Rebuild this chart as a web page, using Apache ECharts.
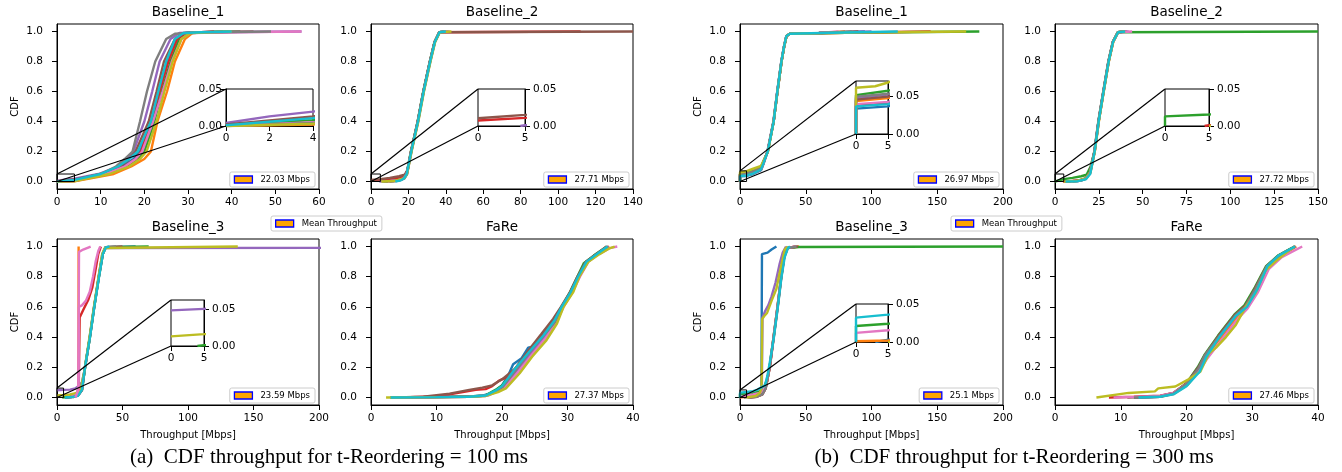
<!DOCTYPE html>
<html><head><meta charset="utf-8">
<script src="https://cdn.jsdelivr.net/npm/echarts@6/dist/echarts.min.js"></script>
<style>html,body{margin:0;padding:0;background:#fff}#c{width:1342px;height:472px}</style>
</head><body><div id="c"></div><script>
// ---------- data ----------
const COLORS = ['#1f77b4','#ff7f0e','#2ca02c','#d62728','#9467bd','#8c564b','#e377c2','#7f7f7f','#bcbd22','#17becf'];
const TITLES = ['Baseline_1','Baseline_2','Baseline_3','FaRe'];
const A_MEANS = ['22.03 Mbps','27.71 Mbps','23.59 Mbps','27.37 Mbps'];
const B_MEANS = ['26.97 Mbps','27.72 Mbps','25.1 Mbps','27.46 Mbps'];
const MEAN_LABEL = 'Mean Throughput';
const CAPTIONS = ['(a)  CDF throughput for t-Reordering = 100 ms','(b)  CDF throughput for t-Reordering = 300 ms'];
const X_NAME = 'Throughput [Mbps]';
const Y_NAME = 'CDF';
const Y_TICKS = [0, 0.2, 0.4, 0.6, 0.8, 1.0];
const INSET_Y_TICKS = [0, 0.05];

// (a) 100 ms, Baseline_1 : blue, orange, green, red, purple, brown, pink, gray, olive, cyan
const A_B1 = [
 [[0,0],[4,0.003],[11,0.05],[15,0.1],[17.5,0.15],[19,0.2],[21.8,0.4],[23.5,0.6],[25.3,0.8],[27.5,0.95],[29.5,0.99],[33,0.995],[38,1]],
 [[0,0],[4,0.002],[13,0.05],[17,0.1],[20,0.15],[21.5,0.2],[23,0.4],[25.2,0.6],[27,0.8],[29.3,0.95],[31,0.99],[34,0.995],[40,1]],
 [[0,0.001],[4,0.008],[11.5,0.05],[16,0.1],[18.5,0.15],[20,0.2],[22.3,0.4],[24,0.6],[26,0.8],[28,0.95],[30,0.99],[34,0.995],[42,1]],
 [[0,0],[4,0.004],[11,0.05],[15.5,0.1],[18,0.15],[19.3,0.2],[21.5,0.4],[23.5,0.6],[25.5,0.8],[27.5,0.95],[29.5,0.99],[33,0.995],[36,1]],
 [[0,0.004],[2,0.013],[4,0.0195],[9.5,0.05],[14,0.1],[16,0.15],[17.5,0.2],[20,0.4],[21.8,0.6],[23.5,0.8],[26,0.95],[28,0.99],[35,0.995],[56,1]],
 [[0,0.002],[4,0.013],[10,0.05],[14.5,0.1],[16.5,0.15],[18,0.2],[21,0.4],[22.8,0.6],[24.5,0.8],[27,0.95],[29,0.99],[35,0.995],[45,1]],
 [[0,0],[4,0.005],[11,0.05],[15.5,0.1],[18,0.15],[19.5,0.2],[22,0.4],[24.2,0.6],[26.3,0.8],[28.5,0.95],[30.5,0.99],[40,0.995],[56,1]],
 [[0,0],[4,0.004],[10,0.05],[13.5,0.1],[15.5,0.15],[17.3,0.2],[19,0.4],[20.6,0.6],[22.5,0.8],[25,0.95],[27,0.985],[35,0.995],[49,1]],
 [[0,0],[4,0.003],[12,0.05],[16.5,0.1],[19,0.15],[20.5,0.2],[22.8,0.4],[24.6,0.6],[26.5,0.8],[28.5,0.95],[30.5,0.99],[35,0.995],[40,1]],
 [[0,0.001],[4,0.0106],[10,0.05],[14,0.1],[16.5,0.15],[18.5,0.2],[21.5,0.4],[23.2,0.6],[25,0.8],[27,0.95],[29,0.99],[33,0.995],[40,1]]
];
// (a) Baseline_2
const A_B2 = [
 [[8,0],[14,0.005],[17.5,0.02],[19,0.05],[21.4,0.2],[25,0.4],[28,0.6],[31.5,0.8],[34,0.93],[36.5,0.995],[40,1]],
 [[7,0],[14,0.004],[17.6,0.02],[19.2,0.05],[21.5,0.2],[25.1,0.4],[28.1,0.6],[31.6,0.8],[34.1,0.93],[36.6,0.995],[39,1]],
 [[6,0],[13,0.005],[17.3,0.02],[19,0.05],[21.3,0.2],[24.9,0.4],[27.9,0.6],[31.4,0.8],[33.9,0.93],[36.4,0.995],[41,1]],
 [[0,0.0075],[5,0.011],[10,0.018],[15,0.027],[18,0.04],[19.5,0.07],[21.4,0.2],[25,0.4],[28,0.6],[31.5,0.8],[34,0.93],[36.5,0.995],[112,1]],
 [[4.5,0],[5,0.001],[10,0.003],[15,0.008],[17.8,0.02],[19.3,0.05],[21.6,0.2],[25.2,0.4],[28.2,0.6],[31.7,0.8],[34.2,0.93],[36.7,0.995],[42,1]],
 [[0,0.0105],[5,0.015],[10,0.024],[15,0.035],[18,0.045],[19.6,0.08],[21.4,0.2],[25,0.4],[28,0.6],[31.5,0.8],[34,0.93],[36.5,0.995],[140,1]],
 [[9,0],[14,0.004],[17.5,0.02],[19.1,0.05],[21.5,0.2],[25.1,0.4],[28.1,0.6],[31.6,0.8],[34.1,0.93],[36.6,0.995],[41,1]],
 [[10,0],[15,0.006],[17.6,0.02],[19.1,0.05],[21.5,0.2],[25,0.4],[28,0.6],[31.5,0.8],[34,0.93],[36.5,0.995],[39,1]],
 [[5.5,0],[12,0.003],[17.7,0.02],[19.3,0.05],[21.7,0.2],[25.3,0.4],[28.3,0.6],[31.8,0.8],[34.3,0.93],[36.8,0.995],[43,1]],
 [[13,0],[16,0.008],[17.6,0.02],[19.1,0.05],[21.5,0.2],[25.1,0.4],[28.1,0.6],[31.6,0.8],[34.1,0.93],[36.6,0.995],[40,1]]
];
// (a) Baseline_3 (11 curves, last one pink again)
const A_B3 = [
 [[6,0],[12,0.004],[16,0.012],[19,0.05],[21.3,0.2],[25,0.4],[28.3,0.6],[31.9,0.8],[34.8,0.95],[37,0.995],[60,1]],
 [[12,0],[16,0.02],[16.4,0.05],[16.5,1.0]],
 [[4,0],[5,0.001],[10,0.005],[15,0.015],[19,0.05],[21.5,0.2],[25.2,0.4],[28.5,0.6],[32,0.8],[35,0.95],[37.2,0.995],[70,1]],
 [[10,0],[15,0.02],[16.6,0.06],[17.3,0.53],[20,0.58],[24,0.65],[27,0.73],[29.5,0.85],[31.5,0.95],[33.5,1.0]],
 [[0,0.048],[5,0.05],[10,0.052],[14,0.06],[17,0.08],[19,0.1],[21.5,0.2],[25,0.4],[28.3,0.6],[31.8,0.8],[34.5,0.95],[37,0.99],[200,0.991],[260,1]],
 [[7,0],[12,0.005],[16,0.013],[19.2,0.05],[21.4,0.2],[25.1,0.4],[28.4,0.6],[32,0.8],[35,0.95],[37.2,0.995],[50,1]],
 [[10,0],[15,0.03],[16.5,0.07],[16.7,0.6],[19,0.61],[22,0.64],[25,0.7],[27.5,0.8],[29.5,0.9],[31.5,0.97],[33,1.0]],
 [[8,0],[13,0.005],[16.5,0.015],[19.1,0.05],[21.4,0.2],[25.1,0.4],[28.4,0.6],[31.9,0.8],[34.9,0.95],[37.1,0.995],[45,1]],
 [[0,0.013],[5,0.016],[10,0.02],[15,0.03],[18,0.05],[21,0.18],[24.8,0.4],[28.2,0.6],[31.7,0.8],[34.5,0.95],[36.5,0.99],[138,1.0]],
 [[6,0],[12,0.003],[16,0.01],[19,0.05],[21.4,0.2],[25.2,0.4],[28.5,0.6],[32.1,0.8],[35,0.95],[37.4,0.995],[40,1]],
 [[14,0],[16.3,0.05],[16.8,0.965],[20,0.98],[25.7,1.0]]
];
const A_B3_COLOR_ORDER = [0,1,2,3,4,5,6,7,8,9,6];
// (a) FaRe
const A_FR = [
 [[3,0],[10,0.003],[15,0.007],[17,0.012],[18.5,0.03],[20,0.08],[21,0.15],[21.7,0.22],[23,0.26],[24,0.33],[25,0.34],[26.3,0.41],[28,0.51],[29.2,0.6],[30.5,0.7],[31.6,0.8],[32.9,0.9],[34.5,0.95],[36.2,1.0]],
 [[3,0],[10,0.002],[15,0.005],[17.5,0.012],[19,0.04],[20.2,0.07],[22.2,0.18],[24.3,0.3],[26.5,0.4],[28.2,0.5],[29.3,0.6],[30.7,0.7],[31.8,0.8],[33.1,0.9],[34.7,0.95],[36.4,1.0]],
 [[3,0],[10,0.002],[15,0.006],[17.5,0.014],[19,0.05],[20,0.08],[22,0.19],[24.2,0.31],[26.3,0.41],[28,0.51],[29.1,0.6],[30.4,0.7],[31.5,0.8],[32.5,0.89],[34,0.94],[36,1.0]],
 [[5,0],[10,0.008],[12,0.02],[14,0.035],[16,0.05],[17.5,0.055],[18.5,0.075],[19.5,0.11],[21,0.14],[22.5,0.21],[24,0.3],[25.5,0.38],[26.7,0.44],[28,0.52],[29.2,0.6],[30.5,0.7],[31.6,0.8],[32.9,0.9],[34.5,0.95],[36,1.0]],
 [[3,0],[10,0.002],[15,0.005],[18,0.015],[19.2,0.04],[20.3,0.07],[22.3,0.18],[24.4,0.29],[26.5,0.4],[28.2,0.5],[29.3,0.6],[30.7,0.7],[31.8,0.8],[33,0.9],[34.6,0.95],[36.3,1.0]],
 [[4,0],[8,0.005],[12,0.025],[15,0.05],[17,0.065],[18.5,0.08],[20,0.12],[22,0.19],[24,0.31],[26,0.42],[27.8,0.52],[29,0.6],[30.4,0.7],[31.5,0.8],[32.8,0.9],[34.4,0.95],[36,1.0]],
 [[3,0],[10,0.002],[15,0.004],[17.5,0.01],[19.3,0.04],[20.5,0.07],[22.5,0.17],[24.5,0.28],[26.6,0.39],[28.3,0.5],[29.4,0.6],[30.8,0.7],[31.9,0.8],[33.2,0.9],[34.8,0.95],[36.5,0.99],[37.6,1.0]],
 [[3,0],[10,0.002],[15,0.005],[17.5,0.012],[19,0.04],[20.1,0.07],[22.1,0.18],[24.2,0.3],[26.4,0.41],[28.1,0.5],[29.2,0.6],[30.6,0.7],[31.7,0.8],[33,0.9],[34.6,0.95],[36.2,1.0]],
 [[2.3,0],[10,0.002],[15,0.004],[17.5,0.01],[19.4,0.035],[20.6,0.06],[22.7,0.16],[24.6,0.27],[26.8,0.38],[28.4,0.49],[29.4,0.6],[30.9,0.7],[31.8,0.8],[33.2,0.9],[34.9,0.95],[36.5,0.99],[37.2,1.0]],
 [[3,0],[10,0.002],[15,0.005],[17.5,0.013],[19,0.045],[20,0.075],[22,0.19],[24.1,0.3],[26.3,0.41],[28,0.51],[29.1,0.6],[30.5,0.7],[31.6,0.8],[32.9,0.9],[34.5,0.95],[36.1,1.0]]
];
// (b) 300 ms, Baseline_1
const B_B1 = [
 [[0,0],[0,0.034],[5,0.037],[10,0.05],[16,0.075],[18,0.12],[20.8,0.2],[25.4,0.4],[28.3,0.6],[31.4,0.8],[33.4,0.9],[35.2,0.97],[38,0.985],[60,0.99],[95,1]],
 [[0,0],[0,0.044],[5,0.048],[10,0.06],[16,0.085],[18,0.13],[21,0.2],[25.5,0.4],[28.4,0.6],[31.5,0.8],[33.5,0.9],[35.3,0.97],[38,0.985],[60,0.99],[80,1]],
 [[0,0],[0,0.052],[5,0.058],[10,0.07],[16,0.095],[18,0.14],[21.2,0.2],[25.6,0.4],[28.5,0.6],[31.6,0.8],[33.6,0.9],[35.4,0.97],[38,0.985],[80,0.992],[182,1]],
 [[0,0],[0,0.038],[5,0.042],[10,0.055],[16,0.08],[18,0.125],[21,0.2],[25.6,0.4],[28.5,0.6],[31.6,0.8],[33.6,0.9],[35.4,0.97],[38,0.985],[80,0.992],[145,1]],
 [[0,0],[0,0.048],[5,0.053],[10,0.065],[16,0.09],[18,0.135],[21.1,0.2],[25.5,0.4],[28.4,0.6],[31.5,0.8],[33.5,0.9],[35.3,0.97],[38,0.985],[60,0.99],[100,1]],
 [[0,0],[0,0.046],[5,0.05],[10,0.062],[16,0.088],[18,0.13],[21,0.2],[25.6,0.4],[28.5,0.6],[31.6,0.8],[33.6,0.9],[35.4,0.97],[38,0.985],[60,0.99],[90,1]],
 [[0,0],[0,0.04],[5,0.043],[10,0.056],[16,0.082],[18,0.127],[21,0.2],[25.5,0.4],[28.4,0.6],[31.5,0.8],[33.5,0.9],[35.3,0.97],[38,0.985],[60,0.99],[75,1]],
 [[0,0],[0,0.05],[5,0.054],[10,0.066],[16,0.09],[18,0.135],[21.1,0.2],[25.5,0.4],[28.4,0.6],[31.5,0.8],[33.5,0.9],[35.3,0.97],[38,0.985],[60,0.99],[85,1]],
 [[0,0],[0,0.062],[3,0.064],[5,0.069],[10,0.085],[16,0.104],[18,0.14],[21.3,0.2],[25.6,0.4],[28.5,0.6],[31.6,0.8],[33.6,0.9],[35.4,0.97],[38,0.985],[90,0.993],[172,1]],
 [[0,0],[0,0.037],[5,0.04],[10,0.053],[16,0.08],[18,0.125],[21.1,0.2],[25.6,0.4],[28.4,0.6],[31.5,0.8],[33.5,0.9],[35.3,0.97],[38,0.985],[70,0.992],[120,1]]
];
// (b) Baseline_2
const B_B2 = [
 [[6,0],[14,0.004],[17.5,0.02],[20,0.06],[22.5,0.2],[24.8,0.4],[27.6,0.6],[30.5,0.8],[33,0.93],[35.8,0.995],[40,1]],
 [[7,0],[14,0.004],[17.7,0.02],[20.2,0.06],[22.7,0.2],[25,0.4],[27.8,0.6],[30.7,0.8],[33.2,0.93],[36,0.995],[39,1]],
 [[0,0],[0,0.013],[5,0.0155],[10,0.024],[15,0.035],[18,0.045],[20.3,0.1],[22.5,0.2],[24.8,0.4],[27.6,0.6],[30.5,0.8],[33,0.93],[35.8,0.995],[150,1]],
 [[4.5,0],[5,0.001],[10,0.004],[15,0.01],[17.8,0.02],[20.1,0.06],[22.6,0.2],[24.9,0.4],[27.7,0.6],[30.6,0.8],[33.1,0.93],[35.9,0.995],[41,1]],
 [[8,0],[14,0.005],[17.6,0.02],[20,0.06],[22.6,0.2],[24.9,0.4],[27.7,0.6],[30.6,0.8],[33.1,0.93],[36,0.995],[42,1]],
 [[6,0],[13,0.006],[17.4,0.02],[19.9,0.06],[22.4,0.2],[24.7,0.4],[27.5,0.6],[30.4,0.8],[32.9,0.93],[35.8,0.995],[40,1]],
 [[9,0],[14,0.004],[17.6,0.02],[20.1,0.06],[22.6,0.2],[24.9,0.4],[27.7,0.6],[30.6,0.8],[33.1,0.93],[36.2,0.995],[44,1]],
 [[10,0],[15,0.006],[17.5,0.02],[20,0.06],[22.5,0.2],[24.8,0.4],[27.6,0.6],[30.5,0.8],[33,0.93],[35.8,0.995],[39,1]],
 [[5,0],[12,0.003],[17.7,0.02],[20.2,0.06],[22.7,0.2],[25,0.4],[27.8,0.6],[30.7,0.8],[33.2,0.93],[36,0.995],[40,1]],
 [[6,0],[13,0.002],[17.6,0.015],[20.1,0.05],[22.6,0.2],[24.9,0.4],[27.7,0.6],[30.6,0.8],[33.1,0.93],[36,0.995],[40,1]]
];
// (b) Baseline_3
const B_B3 = [
 [[3,0],[10,0.01],[14,0.03],[16.3,0.05],[16.7,0.95],[21,0.96],[24,0.98],[27.7,1.0]],
 [[0,0.001],[5,0.002],[10,0.006],[15,0.015],[18,0.04],[20.5,0.1],[22.5,0.2],[25.5,0.4],[28.5,0.6],[31.3,0.8],[33.5,0.93],[36,0.99],[45,1]],
 [[0,0],[0,0.021],[5,0.024],[10,0.03],[15,0.04],[18,0.06],[20.5,0.12],[22.5,0.2],[25.5,0.4],[28.5,0.6],[31.3,0.8],[33.5,0.93],[36,0.99],[45,0.997],[200,1]],
 [[7,0],[13,0.005],[17,0.02],[19.5,0.06],[22.7,0.2],[25.7,0.4],[28.7,0.6],[31.5,0.8],[33.7,0.93],[36.2,0.99],[42,1]],
 [[8,0],[13,0.01],[16,0.04],[16.6,0.06],[17.1,0.53],[19,0.57],[21.5,0.61],[24,0.67],[27,0.76],[30,0.88],[32.5,0.96],[35,1.0]],
 [[6,0],[12,0.004],[17,0.02],[19.5,0.06],[22.6,0.2],[25.6,0.4],[28.6,0.6],[31.4,0.8],[33.6,0.93],[36.1,0.99],[44,1]],
 [[0,0],[0,0.012],[5,0.0155],[10,0.02],[15,0.03],[18,0.05],[20.5,0.11],[22.5,0.2],[25.5,0.4],[28.5,0.6],[31.3,0.8],[33.5,0.93],[36,0.99],[42,1]],
 [[7,0],[13,0.005],[17,0.02],[19.5,0.06],[22.6,0.2],[25.6,0.4],[28.6,0.6],[31.4,0.8],[33.6,0.93],[36.1,0.99],[43,1]],
 [[5,0],[12,0.01],[15,0.03],[16.4,0.06],[16.9,0.52],[18.5,0.54],[20.6,0.56],[24,0.64],[27.7,0.72],[30,0.82],[32,0.9],[34,0.98],[36,1.0]],
 [[0,0],[0,0.032],[5,0.036],[10,0.042],[13,0.05],[15,0.06],[17,0.07],[19,0.08],[21,0.15],[23,0.25],[25.8,0.4],[28.8,0.6],[31.6,0.8],[34,0.93],[36.5,0.99],[38,1]]
];
// (b) FaRe
const B_FR = [
 [[12,0],[16,0.005],[18,0.025],[20,0.09],[21.8,0.19],[22.8,0.28],[24.9,0.4],[27.4,0.54],[28.9,0.6],[30.5,0.72],[32.2,0.87],[34,0.94],[36.5,1.0]],
 [[12.5,0],[16,0.004],[18,0.022],[20.2,0.085],[22,0.18],[23,0.27],[25.1,0.39],[27.6,0.53],[29.1,0.6],[30.7,0.71],[32.4,0.86],[34.2,0.93],[36.7,1.0]],
 [[12,0],[16,0.006],[18,0.027],[20,0.095],[21.7,0.2],[22.7,0.28],[24.8,0.41],[27.3,0.55],[28.8,0.61],[30.4,0.73],[32.1,0.87],[33.9,0.94],[36.4,1.0]],
 [[8.2,0],[12,0.005],[16,0.012],[18,0.03],[20,0.09],[21.8,0.19],[22.8,0.27],[24.8,0.4],[27.3,0.54],[29,0.61],[30.5,0.72],[32.2,0.86],[34,0.93],[36.5,1.0]],
 [[12,0],[16,0.005],[18,0.024],[20.1,0.088],[21.9,0.19],[22.9,0.28],[25,0.4],[27.5,0.54],[29,0.6],[30.6,0.72],[32.3,0.87],[34.1,0.94],[36.6,1.0]],
 [[11,0],[16,0.008],[18,0.03],[20,0.095],[21.8,0.2],[22.8,0.28],[24.9,0.41],[27.4,0.55],[28.9,0.6],[30.5,0.73],[32.2,0.87],[34,0.94],[36.5,1.0]],
 [[8.9,0],[12,0.004],[16,0.01],[18,0.03],[20,0.09],[22,0.18],[23.2,0.26],[25.3,0.38],[27.8,0.52],[29.3,0.59],[30.9,0.7],[32.5,0.85],[34.5,0.93],[37.6,1.0]],
 [[12,0],[16,0.005],[18,0.025],[20,0.09],[21.8,0.19],[22.8,0.28],[24.9,0.4],[27.4,0.54],[28.9,0.6],[30.5,0.72],[32.2,0.87],[34,0.94],[36.5,1.0]],
 [[6.3,0],[11.2,0.03],[15.2,0.04],[15.7,0.06],[18.3,0.073],[20.3,0.12],[22.1,0.17],[23.4,0.29],[24.5,0.33],[26,0.4],[27.5,0.48],[29,0.6],[30.5,0.69],[32,0.84],[33.5,0.9],[35.5,0.97],[36.5,1.0]],
 [[12.7,0],[16,0.005],[18,0.02],[20,0.075],[22,0.17],[23,0.27],[25,0.4],[27.5,0.54],[29.2,0.6],[30.8,0.72],[32.3,0.87],[34,0.94],[36.5,1.0]]
];

// ---------- layout ----------
const DEFAULT_ORDER = [0,1,2,3,4,5,6,7,8,9];
const PANELS = [
 {title:TITLES[0], curves:A_B1, mean:A_MEANS[0], xMax:60,  xInt:10, box:[57,24,262,165],  cdf:true,  xName:false,
  inset:{xMax:4, xInt:2, yMax:0.05,  side:'left',  box:[226,89,87,37]}},
 {title:TITLES[1], curves:A_B2, mean:A_MEANS[1], xMax:140, xInt:20, box:[371,24,262,165], cdf:false, xName:false,
  inset:{xMax:5, xInt:5, yMax:0.05,  side:'right', box:[478,89,47,37]}},
 {title:TITLES[2], curves:A_B3, mean:A_MEANS[2], xMax:200, xInt:50, box:[57,239,262,166], cdf:true,  xName:true, order:A_B3_COLOR_ORDER,
  inset:{xMax:5, xInt:5, yMax:0.062, side:'right', box:[171,300,33,46]}},
 {title:TITLES[3], curves:A_FR, mean:A_MEANS[3], xMax:40,  xInt:10, box:[371,239,262,166], cdf:false, xName:true},
 {title:TITLES[0], curves:B_B1, mean:B_MEANS[0], xMax:200, xInt:50, box:[740,24,263,165], cdf:true,  xName:false,
  inset:{xMax:5, xInt:5, yMax:0.071, side:'right', box:[856,81,32,53]}},
 {title:TITLES[1], curves:B_B2, mean:B_MEANS[1], xMax:150, xInt:25, box:[1055,24,263,165], cdf:false, xName:false,
  inset:{xMax:5, xInt:5, yMax:0.05,  side:'right', box:[1165,89,44,37]}},
 {title:TITLES[2], curves:B_B3, mean:B_MEANS[2], xMax:200, xInt:50, box:[740,239,263,166], cdf:true,  xName:true,
  inset:{xMax:5, xInt:5, yMax:0.05,  side:'right', box:[856,304,32,38]}},
 {title:TITLES[3], curves:B_FR, mean:B_MEANS[3], xMax:40,  xInt:10, box:[1055,239,263,166], cdf:false, xName:true}
];
const MEAN_LEGENDS = [{left:271, top:216}, {left:951, top:216}];
const CAPTION_POS = [[329, 457], [1014, 457]];

const W = 1342, H = 472;
const FONT = '"DejaVu Sans", sans-serif';
const LABEL_FS = 10.5;
const LINE_W = 2.4;

const grids = [], xAxes = [], yAxes = [], series = [], legends = [];
const insetLinks = [];

function legendCfg(names, pos) {
  return Object.assign({
    data: names, orient: 'horizontal', icon: 'rect', itemWidth: 18, itemHeight: 7, itemGap: 4,
    selectedMode: false, backgroundColor: '#fff', borderColor: '#cccccc', borderWidth: 1, borderRadius: 2,
    padding: [3, 5, 3, 4],
    textStyle: {fontSize: 8.5, color: '#000', fontFamily: FONT, padding: [0, 0, 0, 3]},
    itemStyle: {color: '#ffa500', borderColor: '#0000ff', borderWidth: 1.3}
  }, pos);
}

PANELS.forEach((p) => {
  const gi = grids.length;
  const [L, T, Wd, Ht] = p.box;
  grids.push({left: L, top: T, width: Wd, height: Ht, show: true, borderColor: '#000', borderWidth: 1,
    backgroundColor: 'transparent', containLabel: false, outerBoundsMode: 'none'});
  xAxes.push({gridIndex: gi, type: 'value', min: 0, max: p.xMax, interval: p.xInt,
    axisLine: {show: true, onZero: false, lineStyle: {color: '#000', width: 1}},
    axisTick: {show: true, length: 5, lineStyle: {color: '#000'}},
    axisLabel: {show: true, color: '#000', fontSize: LABEL_FS, fontFamily: FONT, margin: 8},
    splitLine: {show: false},
    name: p.xName ? X_NAME : '', nameLocation: 'middle', nameGap: 25, nameMoveOverlap: false,
    nameTextStyle: {fontSize: 10, color: '#000', fontFamily: FONT}});
  yAxes.push({gridIndex: gi, type: 'value', min: -0.05, max: 1.05,
    axisLine: {show: true, onZero: false, lineStyle: {color: '#000', width: 1}},
    axisTick: {show: true, length: 5, lineStyle: {color: '#000'}, customValues: Y_TICKS},
    axisLabel: {show: true, color: '#000', fontSize: LABEL_FS, fontFamily: FONT, margin: 14,
      customValues: Y_TICKS, formatter: (v) => Number(v).toFixed(1)},
    splitLine: {show: false},
    name: p.cdf ? Y_NAME : '', nameLocation: 'middle', nameGap: 37, nameMoveOverlap: false,
    nameTextStyle: {fontSize: 10, color: '#000', fontFamily: FONT}});
  const order = p.order || DEFAULT_ORDER;
  p.curves.forEach((c, i) => {
    series.push({type: 'line', xAxisIndex: gi, yAxisIndex: gi, data: c, showSymbol: false, symbol: 'none',
      silent: true, lineStyle: {width: LINE_W, color: COLORS[order[i]]}, itemStyle: {color: COLORS[order[i]]}, z: 2});
  });
  // mean throughput legend entry (empty series)
  series.push({type: 'line', name: p.mean, xAxisIndex: gi, yAxisIndex: gi, data: [], itemStyle: {color: '#ffa500'}});
  legends.push(legendCfg([p.mean], {right: W - (L + Wd) + 4, bottom: H - (T + Ht) + 2}));

  if (p.inset) {
    const ins = p.inset;
    const ii = grids.length;
    const [iL, iT, iW, iH] = ins.box;
    grids.push({left: iL, top: iT, width: iW, height: iH, show: true, borderColor: '#000', borderWidth: 1,
      backgroundColor: '#fff', containLabel: false, outerBoundsMode: 'none'});
    xAxes.push({gridIndex: ii, type: 'value', min: 0, max: ins.xMax, interval: ins.xInt,
      axisLine: {show: true, onZero: false, lineStyle: {color: '#000', width: 1}},
      axisTick: {show: true, length: 5, lineStyle: {color: '#000'}},
      axisLabel: {show: true, color: '#000', fontSize: LABEL_FS, fontFamily: FONT, margin: 7},
      splitLine: {show: false}});
    yAxes.push({gridIndex: ii, type: 'value', min: 0, max: ins.yMax, position: ins.side,
      axisLine: {show: true, onZero: false, lineStyle: {color: '#000', width: 1}},
      axisTick: {show: true, length: 5, lineStyle: {color: '#000'}, customValues: INSET_Y_TICKS},
      axisLabel: {show: true, color: '#000', fontSize: LABEL_FS, fontFamily: FONT, margin: ins.side === 'left' ? 4 : 8,
        customValues: INSET_Y_TICKS, formatter: (v) => Number(v).toFixed(2)},
      splitLine: {show: false}});
    p.curves.forEach((c, i) => {
      series.push({type: 'line', xAxisIndex: ii, yAxisIndex: ii, data: c, showSymbol: false, symbol: 'none',
        silent: true, lineStyle: {width: LINE_W, color: COLORS[order[i]]}, z: 3});
    });
    // zoom rectangle in the main axes
    series.push({type: 'line', xAxisIndex: gi, yAxisIndex: gi, showSymbol: false, symbol: 'none', silent: true,
      data: [[0, 0], [ins.xMax, 0], [ins.xMax, ins.yMax], [0, ins.yMax], [0, 0]],
      lineStyle: {width: 1, color: '#000'}, z: 5, clip: false});
    insetLinks.push({gi, ii, yMax: ins.yMax});
  }
});
// shared "Mean Throughput" entry
series.push({type: 'line', name: MEAN_LABEL, xAxisIndex: 0, yAxisIndex: 0, data: [], itemStyle: {color: '#ffa500'}});
MEAN_LEGENDS.forEach((pos) => legends.push(legendCfg([MEAN_LABEL], pos)));

const chart = echarts.init(document.getElementById('c'), null, {renderer: 'canvas', width: W, height: H});
chart.setOption({
  animation: false,
  backgroundColor: '#fff',
  textStyle: {fontFamily: FONT},
  grid: grids, xAxis: xAxes, yAxis: yAxes, series: series, legend: legends
});

// titles, captions and inset connector lines
const graphics = [];
PANELS.forEach((p) => {
  const [L, T, Wd] = p.box;
  graphics.push({type: 'text', x: L + Wd / 2, y: T - 12, z: 50, silent: true,
    style: {text: p.title, font: '13.5px ' + FONT, fill: '#000', align: 'center', verticalAlign: 'middle',
      textAlign: 'center', textVerticalAlign: 'middle'}});
});
CAPTIONS.forEach((t, k) => {
  graphics.push({type: 'text', x: CAPTION_POS[k][0], y: CAPTION_POS[k][1], z: 50, silent: true,
    style: {text: t, font: '21px "Liberation Serif", serif', fill: '#000', align: 'center', verticalAlign: 'middle',
      textAlign: 'center', textVerticalAlign: 'middle'}});
});
insetLinks.forEach((lk) => {
  const corners = [[0, lk.yMax], [0, 0]];
  corners.forEach((pt) => {
    const a = chart.convertToPixel({gridIndex: lk.gi}, pt);
    const b = chart.convertToPixel({gridIndex: lk.ii}, pt);
    graphics.push({type: 'line', z: 60, silent: true,
      shape: {x1: a[0], y1: a[1], x2: b[0], y2: b[1]}, style: {stroke: '#000', lineWidth: 1.2}});
  });
});
chart.setOption({graphic: graphics});
</script></body></html>
